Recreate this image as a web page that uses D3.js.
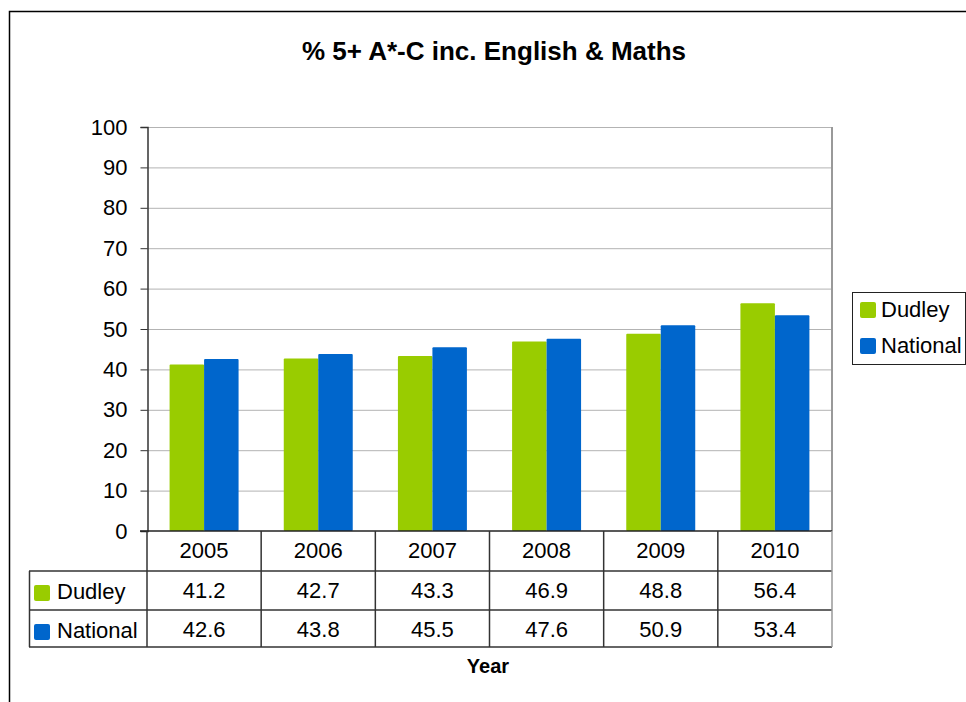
<!DOCTYPE html>
<html>
<head>
<meta charset="utf-8">
<script src="https://cdn.jsdelivr.net/npm/d3@7"></script>
<style>
  body { margin: 0; background: #fff; }
  svg text { font-family: "Liberation Sans", Arial, sans-serif; fill: #000; }
</style>
</head>
<body>
<div id="chart"></div>
<script>

// chart data
var years = ["2005", "2006", "2007", "2008", "2009", "2010"];
var seriesNames = ["Dudley", "National"];
var dudley = [41.2, 42.7, 43.3, 46.9, 48.8, 56.4];
var national = [42.6, 43.8, 45.5, 47.6, 50.9, 53.4];
var yTicks = [0, 10, 20, 30, 40, 50, 60, 70, 80, 90, 100];

var colors = {"Dudley": "#99cc00", "National": "#0066cc"};
var values = {"Dudley": dudley, "National": national};

// plot area
var plot = {left: 147, right: 832, top: 127, bottom: 531};
var rowY = [531, 571, 610, 647];
var labelSize = "22px";

var svg = d3.select("#chart")
  .append("svg")
  .attr("width", 966)
  .attr("height", 702);

// outer frame of the chart
svg.append("rect")
  .attr("x", 9.5)
  .attr("y", 11.5)
  .attr("width", 1000)
  .attr("height", 1000)
  .attr("fill", "none")
  .attr("stroke", "#000")
  .attr("stroke-width", 1.5);

// title
svg.append("text")
  .attr("x", 494)
  .attr("y", 60)
  .attr("text-anchor", "middle")
  .style("font-size", "26px")
  .style("font-weight", "bold")
  .text("% 5+ A*-C inc. English & Maths");

// scales
var x = d3.scaleBand()
  .domain(years)
  .range([plot.left, plot.right]);

var xSub = d3.scaleBand()
  .domain(seriesNames)
  .range([0, x.bandwidth()])
  .paddingOuter(0.655);

var y = d3.scaleLinear()
  .domain([0, 100])
  .range([plot.bottom, plot.top]);

// gridlines
svg.append("g")
  .selectAll("line")
  .data(yTicks.slice(1))
  .enter().append("line")
  .attr("x1", plot.left)
  .attr("x2", plot.right)
  .attr("y1", function(d) { return y(d) + 0.5; })
  .attr("y2", function(d) { return y(d) + 0.5; })
  .attr("stroke", "#b3b3b3")
  .attr("stroke-width", 1);

// right border of plot
svg.append("line")
  .attr("x1", plot.right)
  .attr("x2", plot.right)
  .attr("y1", plot.top)
  .attr("y2", plot.bottom)
  .attr("stroke", "#999")
  .attr("stroke-width", 2);

// bars
seriesNames.forEach(function(s) {
  svg.append("g")
    .selectAll("rect")
    .data(values[s])
    .enter().append("rect")
    .attr("x", function(d, i) { return x(years[i]) + xSub(s); })
    .attr("y", function(d) { return y(d); })
    .attr("width", xSub.bandwidth())
    .attr("height", function(d) { return plot.bottom - y(d); })
    .attr("rx", 1)
    .attr("fill", colors[s]);
});

// y axis
var yAxis = d3.axisLeft(y)
  .tickValues(yTicks)
  .tickSize(7)
  .tickPadding(13)
  .tickFormat(d3.format("d"));

var yg = svg.append("g")
  .attr("transform", "translate(" + (plot.left + 0.5) + ",0)")
  .call(yAxis);

yg.select(".domain").attr("stroke", "#333").attr("stroke-width", 1.5);
yg.selectAll(".tick line").attr("stroke", "#333");
yg.selectAll("text")
  .style("font-size", labelSize)
  .attr("fill", "#000");

// data table below the plot
var table = svg.append("g");

// horizontal rules of the table
table.append("line")
  .attr("x1", 140).attr("x2", plot.right)
  .attr("y1", rowY[0]).attr("y2", rowY[0])
  .attr("stroke", "#222").attr("stroke-width", 1.5);

rowY.slice(1).forEach(function(ry) {
  table.append("line")
    .attr("x1", 29).attr("x2", plot.right)
    .attr("y1", ry).attr("y2", ry)
    .attr("stroke", "#333").attr("stroke-width", 1.5);
});

// vertical rules of the table
var colEdges = years.map(function(d) { return x(d); }).concat([plot.right]);
table.selectAll(".vline")
  .data(colEdges)
  .enter().append("line")
  .attr("class", "vline")
  .attr("x1", function(d) { return d; })
  .attr("x2", function(d) { return d; })
  .attr("y1", rowY[0])
  .attr("y2", rowY[3])
  .attr("stroke", function(d, i) { return i == colEdges.length - 1 ? "#999" : "#333"; })
  .attr("stroke-width", 1.5);

table.append("line")
  .attr("x1", 29.5).attr("x2", 29.5)
  .attr("y1", rowY[1]).attr("y2", rowY[3])
  .attr("stroke", "#333").attr("stroke-width", 1.5);

// year labels
table.selectAll(".year")
  .data(years)
  .enter().append("text")
  .attr("class", "year")
  .attr("x", function(d) { return x(d) + x.bandwidth() / 2; })
  .attr("y", 558)
  .attr("text-anchor", "middle")
  .style("font-size", labelSize)
  .text(function(d) { return d; });

// series rows
seriesNames.forEach(function(s, r) {
  var baseY = r == 0 ? 598 : 637;

  table.append("rect")
    .attr("x", 34)
    .attr("y", baseY - 13)
    .attr("width", 16)
    .attr("height", 16)
    .attr("rx", 2)
    .attr("fill", colors[s]);

  table.append("text")
    .attr("x", 57)
    .attr("y", baseY + 1)
    .style("font-size", labelSize)
    .text(s);

  table.selectAll(".val" + r)
    .data(values[s])
    .enter().append("text")
    .attr("class", "val" + r)
    .attr("x", function(d, i) { return x(years[i]) + x.bandwidth() / 2; })
    .attr("y", baseY)
    .attr("text-anchor", "middle")
    .style("font-size", labelSize)
    .text(function(d) { return d3.format(".1f")(d); });
});

// x axis title
svg.append("text")
  .attr("x", 488)
  .attr("y", 673)
  .attr("text-anchor", "middle")
  .style("font-size", "20px")
  .style("font-weight", "bold")
  .text("Year");

// legend
var legend = svg.append("g");

legend.append("rect")
  .attr("x", 852.5)
  .attr("y", 292.5)
  .attr("width", 113)
  .attr("height", 72)
  .attr("fill", "#fff")
  .attr("stroke", "#222")
  .attr("stroke-width", 1);

seriesNames.forEach(function(s, i) {
  legend.append("rect")
    .attr("x", 860)
    .attr("y", 302 + i * 36)
    .attr("width", 16)
    .attr("height", 16)
    .attr("rx", 2)
    .attr("fill", colors[s]);

  legend.append("text")
    .attr("x", 881)
    .attr("y", 317 + i * 35.5)
    .style("font-size", labelSize)
    .text(s);
});

</script>
</body>
</html>
